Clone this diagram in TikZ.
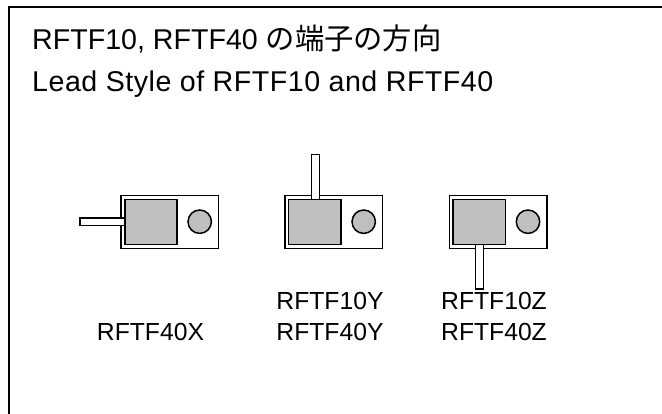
\documentclass[tikz,border=0pt]{standalone}
\usepackage{fontspec}
\setmainfont{Liberation Sans}
\newfontfamily\cjk{Noto Sans CJK JP}
\begin{document}
\begin{tikzpicture}[x=1pt,y=-1pt,
  line/.style={draw=black,line width=1.5pt},
  pkg/.style={line,fill=white},
  die/.style={line,fill=black!25},
  lbl/.style={font=\fontsize{24.7pt}{28pt}\selectfont,inner sep=0pt,anchor=base},
  ttl/.style={font=\fontsize{28.6pt}{32pt}\selectfont,inner sep=0pt,anchor=base west}]
\useasboundingbox (0,0) rectangle (662,414);
\fill[white] (0,0) rectangle (662,414);
\draw[line width=2pt] (9.3,414) -- (9.3,6.7) -- (662,6.7);
\node[ttl] (t1) at (32,50) {RFTF10, RFTF40 {\cjk\fontsize{29.3pt}{32pt}\selectfont の端子の方向}};
\node[ttl] (t2) at (32,92) {\addfontfeature{LetterSpace=1.8}Lead Style of RFTF10 and RFTF40};
% X
\draw[pkg] (121,195.7) rectangle (218.7,248.3);
\draw[die] (125,199.3) rectangle (177,244.3);
\draw[die] (199.7,221.7) circle (11.7);
\draw[pkg] (80,218) rectangle (125,225.7);
% Y
\draw[pkg] (285,195.7) rectangle (382.7,248.3);
\draw[die] (288.7,199.3) rectangle (341,244.3);
\draw[die] (363.7,221.7) circle (11.7);
\draw[pkg] (311.7,154.3) rectangle (319.3,199.3);
% Z
\draw[pkg] (449.3,195.7) rectangle (547,248.3);
\draw[die] (453,199.3) rectangle (505.7,244.3);
\draw[die] (528,221.7) circle (11.7);
\draw[pkg] (475.7,244.3) rectangle (483.3,289);
% labels
\node[lbl] (a) at (150.5,340.5) {RFTF40X};
\node[lbl] (b1) at (330,309.5) {RFTF10Y};
\node[lbl] (b2) at (330,340.5) {RFTF40Y};
\node[lbl] (c1) at (494,309.5) {RFTF10Z};
\node[lbl] (c2) at (494,340.5) {RFTF40Z};
\end{tikzpicture}
\end{document}
